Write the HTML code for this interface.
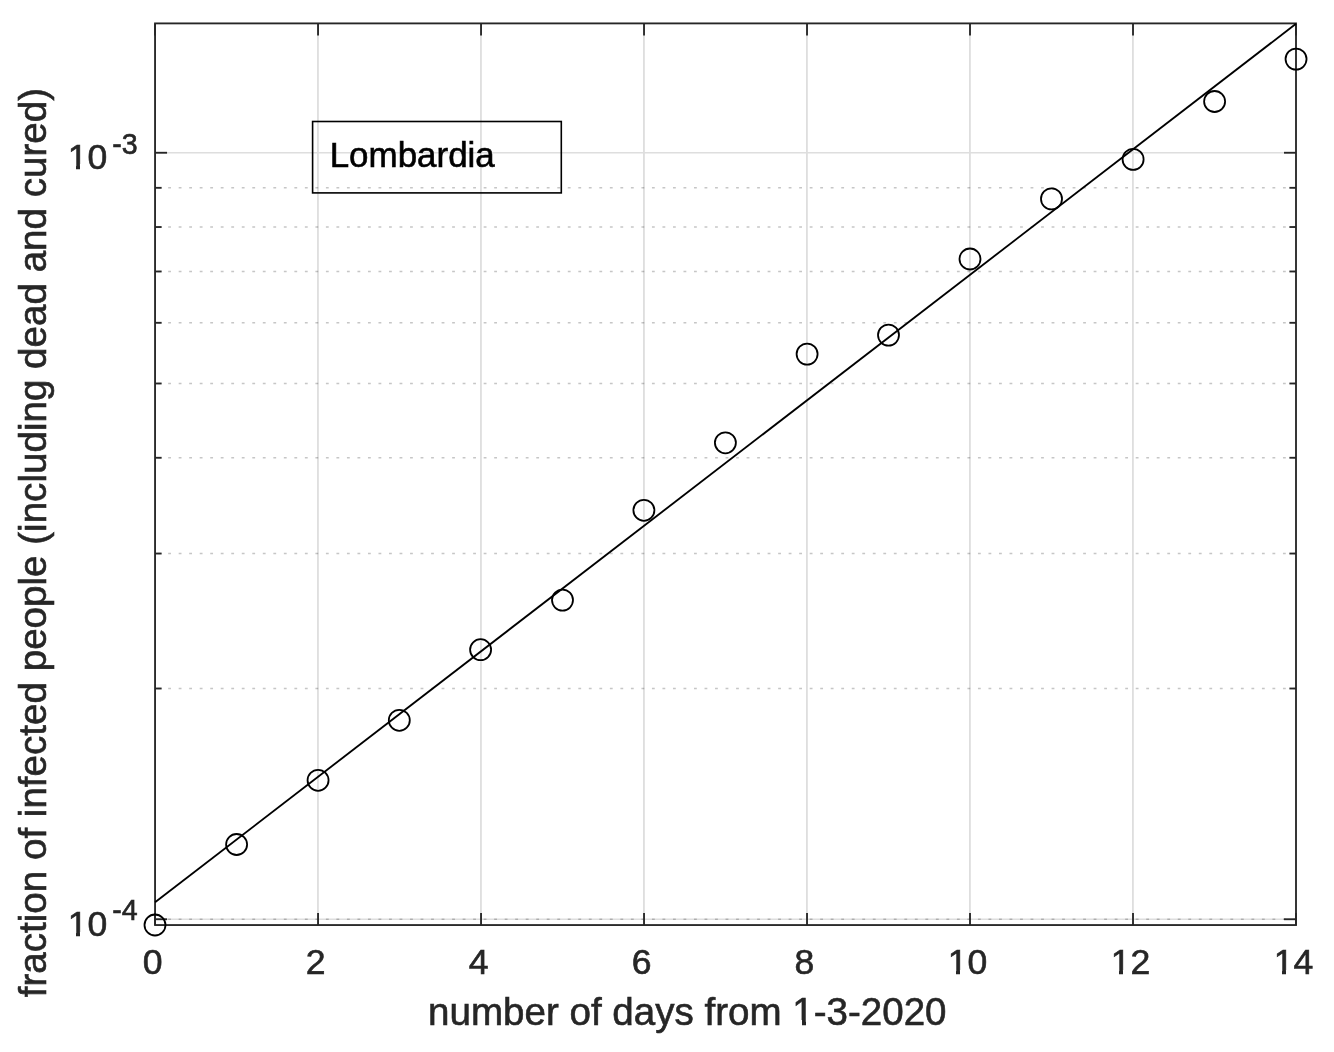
<!DOCTYPE html>
<html><head><meta charset="utf-8"><title>Lombardia</title>
<style>html,body{margin:0;padding:0;background:#fff}</style></head>
<body>
<svg width="1334" height="1052" viewBox="0 0 1334 1052" style="display:block;will-change:transform">
<rect width="1334" height="1052" fill="#fff"/>
<g stroke="#dedede" stroke-width="2" fill="none">
<line x1="317.94" y1="23.4" x2="317.94" y2="925.05" stroke-width="1.8"/>
<line x1="480.94" y1="23.4" x2="480.94" y2="925.05" stroke-width="1.8"/>
<line x1="643.93" y1="23.4" x2="643.93" y2="925.05" stroke-width="1.8"/>
<line x1="806.92" y1="23.4" x2="806.92" y2="925.05" stroke-width="1.8"/>
<line x1="969.91" y1="23.4" x2="969.91" y2="925.05" stroke-width="1.8"/>
<line x1="1132.91" y1="23.4" x2="1132.91" y2="925.05" stroke-width="1.8"/>
<line x1="155.05" y1="152.75" x2="1296.0" y2="152.75" stroke-width="1.6"/>
<line x1="155.05" y1="919.25" x2="1296.0" y2="919.25" stroke-width="1.6"/>
</g>
<g stroke="#1a1a1a" stroke-opacity="0.25" stroke-width="1.6" fill="none" stroke-dasharray="2.8 7.717" stroke-dashoffset="-2.6">
<line x1="155.05" y1="688.51" x2="1296.0" y2="688.51"/>
<line x1="155.05" y1="553.54" x2="1296.0" y2="553.54"/>
<line x1="155.05" y1="457.77" x2="1296.0" y2="457.77"/>
<line x1="155.05" y1="383.49" x2="1296.0" y2="383.49"/>
<line x1="155.05" y1="322.80" x2="1296.0" y2="322.80"/>
<line x1="155.05" y1="271.48" x2="1296.0" y2="271.48"/>
<line x1="155.05" y1="227.03" x2="1296.0" y2="227.03"/>
<line x1="155.05" y1="187.82" x2="1296.0" y2="187.82"/>
<line x1="155.05" y1="919.25" x2="1296.0" y2="919.25"/>
</g>
<g stroke="#262626" stroke-width="1.85" fill="none">
<line x1="155.05" y1="925.05" x2="155.05" y2="913.05"/>
<line x1="155.05" y1="23.4" x2="155.05" y2="35.4"/>
<line x1="318.04" y1="925.05" x2="318.04" y2="913.05"/>
<line x1="318.04" y1="23.4" x2="318.04" y2="35.4"/>
<line x1="481.04" y1="925.05" x2="481.04" y2="913.05"/>
<line x1="481.04" y1="23.4" x2="481.04" y2="35.4"/>
<line x1="644.03" y1="925.05" x2="644.03" y2="913.05"/>
<line x1="644.03" y1="23.4" x2="644.03" y2="35.4"/>
<line x1="807.02" y1="925.05" x2="807.02" y2="913.05"/>
<line x1="807.02" y1="23.4" x2="807.02" y2="35.4"/>
<line x1="970.01" y1="925.05" x2="970.01" y2="913.05"/>
<line x1="970.01" y1="23.4" x2="970.01" y2="35.4"/>
<line x1="1133.01" y1="925.05" x2="1133.01" y2="913.05"/>
<line x1="1133.01" y1="23.4" x2="1133.01" y2="35.4"/>
<line x1="1296.00" y1="925.05" x2="1296.00" y2="913.05"/>
<line x1="1296.00" y1="23.4" x2="1296.00" y2="35.4"/>
<line x1="155.05" y1="152.75" x2="167.05" y2="152.75"/>
<line x1="1296.0" y1="152.75" x2="1284.0" y2="152.75"/>
<line x1="155.05" y1="919.25" x2="167.05" y2="919.25"/>
<line x1="1296.0" y1="919.25" x2="1284.0" y2="919.25"/>
<line x1="155.05" y1="688.51" x2="161.65" y2="688.51"/>
<line x1="1296.0" y1="688.51" x2="1289.4" y2="688.51"/>
<line x1="155.05" y1="553.54" x2="161.65" y2="553.54"/>
<line x1="1296.0" y1="553.54" x2="1289.4" y2="553.54"/>
<line x1="155.05" y1="457.77" x2="161.65" y2="457.77"/>
<line x1="1296.0" y1="457.77" x2="1289.4" y2="457.77"/>
<line x1="155.05" y1="383.49" x2="161.65" y2="383.49"/>
<line x1="1296.0" y1="383.49" x2="1289.4" y2="383.49"/>
<line x1="155.05" y1="322.80" x2="161.65" y2="322.80"/>
<line x1="1296.0" y1="322.80" x2="1289.4" y2="322.80"/>
<line x1="155.05" y1="271.48" x2="161.65" y2="271.48"/>
<line x1="1296.0" y1="271.48" x2="1289.4" y2="271.48"/>
<line x1="155.05" y1="227.03" x2="161.65" y2="227.03"/>
<line x1="1296.0" y1="227.03" x2="1289.4" y2="227.03"/>
<line x1="155.05" y1="187.82" x2="161.65" y2="187.82"/>
<line x1="1296.0" y1="187.82" x2="1289.4" y2="187.82"/>
<rect x="155.05" y="23.4" width="1140.95" height="901.65"/>
</g>
<line x1="155.05" y1="902.3" x2="1296.0" y2="23.799999999999997" stroke="#000" stroke-width="1.85" />
<g stroke="#000" stroke-width="1.8" fill="none">
<circle cx="155.0" cy="925.0" r="10.5"/>
<circle cx="236.6" cy="844.5" r="10.5"/>
<circle cx="318.07" cy="780.3" r="10.5"/>
<circle cx="399.3" cy="720.3" r="10.5"/>
<circle cx="480.6" cy="649.7" r="10.5"/>
<circle cx="562.5" cy="600.1" r="10.5"/>
<circle cx="643.9" cy="510.3" r="10.5"/>
<circle cx="725.4" cy="442.8" r="10.5"/>
<circle cx="807.1" cy="354.1" r="10.5"/>
<circle cx="888.5" cy="335.1" r="10.5"/>
<circle cx="970.0" cy="259.0" r="10.5"/>
<circle cx="1051.5" cy="198.9" r="10.5"/>
<circle cx="1133.1" cy="159.4" r="10.5"/>
<circle cx="1214.6" cy="101.5" r="10.5"/>
<circle cx="1296.05" cy="59.1" r="10.5"/>
</g>
<rect x="312.6" y="121.5" width="248.7" height="71.4" fill="none" stroke="#000" stroke-width="1.6"/>
<text x="329.7" y="166.6" font-family="'Liberation Sans', Arial, Helvetica, sans-serif" font-size="34.95" fill="#000" stroke="#000" stroke-width="0.6">Lombardia</text>
<g font-family="'Liberation Sans', Arial, Helvetica, sans-serif" font-size="35.6" fill="#262626" stroke="#262626" stroke-width="0.6" text-anchor="middle">
<text x="152.55" y="974.1">0</text>
<text x="315.54" y="974.1">2</text>
<text x="478.54" y="974.1">4</text>
<text x="641.53" y="974.1">6</text>
<text x="804.52" y="974.1">8</text>
<text x="967.51" y="974.1">10</text>
<text x="1130.51" y="974.1">12</text>
<text x="1293.50" y="974.1">14</text>
</g>
<g font-family="'Liberation Sans', Arial, Helvetica, sans-serif" fill="#262626" stroke="#262626" stroke-width="0.6">
<text x="67.7" y="169.0" font-size="35.6">10</text><text x="112.3" y="153.5" font-size="28.6">-3</text>
<text x="67.7" y="936.3" font-size="35.6">10</text><text x="112.3" y="920.0" font-size="28.6">-4</text>
<text x="687.3" y="1024.5" font-size="38.55" text-anchor="middle">number of days from 1-3-2020</text>
<text transform="translate(46.4 542.6) rotate(-90)" font-size="38.6" text-anchor="middle">fraction of infected people (including dead and cured)</text>
</g>
<g fill="#fff" shape-rendering="crispEdges"><rect x="948.83" y="970.00" width="7.54" height="6.00"/><rect x="960.12" y="970.00" width="7.26" height="6.00"/><rect x="1111.83" y="970.00" width="7.54" height="6.00"/><rect x="1123.12" y="970.00" width="7.26" height="6.00"/><rect x="1274.82" y="970.00" width="7.54" height="6.00"/><rect x="1286.11" y="970.00" width="7.26" height="6.00"/><rect x="68.81" y="164.00" width="7.54" height="7.00"/><rect x="80.10" y="164.00" width="7.26" height="7.00"/><rect x="68.81" y="932.00" width="7.54" height="6.00"/><rect x="80.10" y="932.00" width="7.26" height="6.00"/><rect x="793.57" y="1020.00" width="8.06" height="6.00"/><rect x="805.63" y="1020.00" width="7.76" height="6.00"/></g>
</svg>
</body></html>
